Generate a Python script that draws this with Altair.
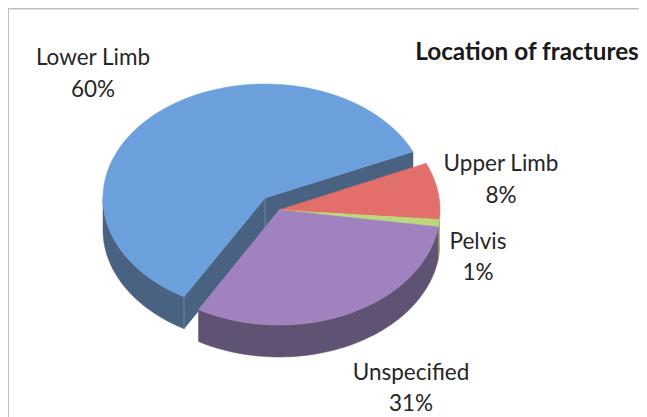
import math
import altair as alt
import pandas as pd

# ---- chart values ----
categories = ["Lower Limb", "Unspecified", "Pelvis", "Upper Limb"]
shares = [60, 31, 1, 8]
title_text = "Location of fractures"

# ---- layout (page pixels) ----
START = 24.0
DEPTH = 32
MAIN = (265, 198, 162, 114)
REST = (279, 210, 161, 115)
TOP = {"Lower Limb": "#6CA0DC", "Unspecified": "#A082BE", "Pelvis": "#BBD97A", "Upper Limb": "#E36F6B"}
WALL = {"Lower Limb": "#4A6282", "Unspecified": "#605273", "Pelvis": "#7F9455", "Upper Limb": "#9E4E4B"}
LABELS = {"Lower Limb": (93, 58, 93, 90), "Upper Limb": (501, 164, 501, 196),
          "Pelvis": (478, 242, 478, 273), "Unspecified": (411, 373, 411, 404)}
W, H = 631, 409

x_scale = alt.Scale(domain=[8, 8 + W], range=[0, W], nice=False, zero=False)
y_scale = alt.Scale(domain=[8, 8 + H], range=[0, H], nice=False, zero=False)


def pt(c, deg, dz=0):
    a = math.radians(deg)
    return c[0] + c[2] * math.cos(a), c[1] - c[3] * math.sin(a) + dz


def arc(c, a0, a1, dz=0):
    n = max(2, int(abs(a1 - a0) / 1.5) + 1)
    return [pt(c, a0 + (a1 - a0) * i / n, dz) for i in range(n + 1)]


def poly(points, color, edge=None, closed=True):
    pts = points + [points[0]] if closed else points
    df = pd.DataFrame({"x": [p[0] for p in pts], "y": [p[1] for p in pts]})
    df["i"] = range(len(df))
    kw = {"fill": color} if closed else {}
    return alt.Chart(df).mark_line(stroke=edge or color, strokeWidth=0.5 if closed else 1,
                                   interpolate="linear", clip=False, **kw).encode(
        x=alt.X("x:Q", scale=x_scale, axis=None),
        y=alt.Y("y:Q", scale=y_scale, axis=None),
        order="i:Q",
    )


# slice angles from the shares
spans = {}
a = START
for cat, s in zip(categories, shares):
    spans[cat] = (a, a + s * 3.6)
    a += s * 3.6

layers = []
# Lower limb
a0, a1 = spans["Lower Limb"]
apex = (MAIN[0], MAIN[1])
apex_low = (apex[0], apex[1] + DEPTH)
wc = WALL["Lower Limb"]
EDGE = "#6F86A3"
layers.append(poly(arc(MAIN, 180, a1) + arc(MAIN, a1, 180, DEPTH), wc))
for ang in (a0, a1):
    p = pt(MAIN, ang)
    q = pt(MAIN, ang, DEPTH)
    layers.append(poly([apex, p, q, apex_low], wc))
    if ang == a1:
        layers.append(poly([p, q], None, edge=EDGE, closed=False))
layers.append(poly([apex, apex_low], None, edge=EDGE, closed=False))
layers.append(poly([apex] + arc(MAIN, a0, a1), TOP["Lower Limb"]))

# remaining slices: walls then tops
centre = (REST[0], REST[1])
for cat in ["Unspecified", "Pelvis"]:
    s0, s1 = spans[cat]
    layers.append(poly(arc(REST, s0, s1) + arc(REST, s1, s0, DEPTH), WALL[cat]))
for cat in ["Upper Limb", "Pelvis", "Unspecified"]:
    s0, s1 = spans[cat]
    layers.append(poly([centre] + arc(REST, s0, s1), TOP[cat]))

# frame
frame = pd.DataFrame({"x": [8], "x2": [8 + W], "y": [8], "y2": [8 + H]})
layers.append(alt.Chart(frame).mark_rule(color="#BFBFBF", strokeWidth=3).encode(
    x=alt.X("x:Q", scale=x_scale, axis=None), y=alt.Y("y:Q", scale=y_scale, axis=None), x2="x2:Q"))
layers.append(alt.Chart(frame).mark_rule(color="#BFBFBF", strokeWidth=2).encode(
    x=alt.X("x:Q", scale=x_scale, axis=None), y=alt.Y("y:Q", scale=y_scale, axis=None), y2="y2:Q"))

# labels
rows = []
for cat, s in zip(categories, shares):
    xa, ya, xb, yb = LABELS[cat]
    rows.append({"x": xa, "y": ya, "t": cat})
    rows.append({"x": xb, "y": yb, "t": f"{s}%"})
layers.append(alt.Chart(pd.DataFrame(rows)).mark_text(
    font="Lato", fontSize=22.5, color="#262626", align="center", baseline="middle").encode(
    x=alt.X("x:Q", scale=x_scale, axis=None), y=alt.Y("y:Q", scale=y_scale, axis=None), text="t:N"))
layers.append(alt.Chart(pd.DataFrame([{"x": 527, "y": 53, "t": title_text}])).mark_text(
    font="Lato", fontSize=24.3, fontWeight="bold", color="#1A1A1A", align="center", baseline="middle").encode(
    x=alt.X("x:Q", scale=x_scale, axis=None), y=alt.Y("y:Q", scale=y_scale, axis=None), text="t:N"))

chart = alt.layer(*layers).properties(
    width=W, height=H, padding=0, background="white",
    autosize=alt.AutoSizeParams(type="none", contains="padding"),
).configure_view(stroke=None)
chart.save("out.html", embed_options={"renderer": "svg", "actions": False})
